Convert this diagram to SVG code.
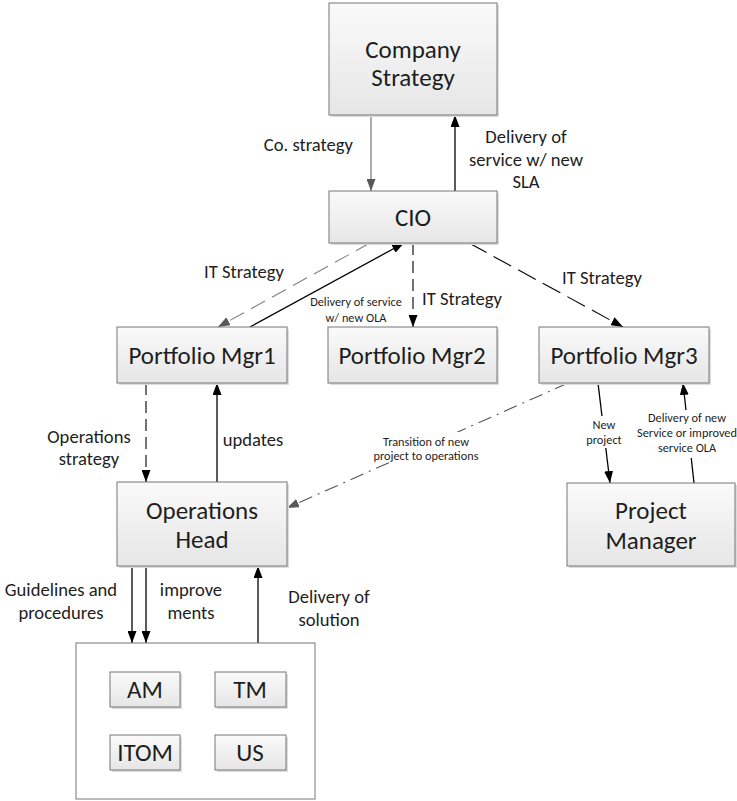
<svg xmlns="http://www.w3.org/2000/svg" width="737" height="801" viewBox="0 0 737 801">
  <defs>
    <linearGradient id="boxFill" x1="0" y1="0" x2="0" y2="1">
      <stop offset="0" stop-color="#fafafa"/>
      <stop offset="1" stop-color="#e6e6e6"/>
    </linearGradient>
    <marker id="arrowBlack" viewBox="0 0 12 9" refX="12" refY="4.5" markerWidth="12" markerHeight="9" markerUnits="userSpaceOnUse" orient="auto">
      <path d="M0,0 L12,4.5 L0,9 Z" fill="#000"/>
    </marker>
    <marker id="arrowGray" viewBox="0 0 12 9" refX="12" refY="4.5" markerWidth="12" markerHeight="9" markerUnits="userSpaceOnUse" orient="auto">
      <path d="M0,0 L12,4.5 L0,9 Z" fill="#595959"/>
    </marker>
    <style>
      .shadow { fill: #dcdcdc; }
      .box { fill: url(#boxFill); stroke: #777; stroke-width: 1; }
      .frame { fill: #fff; stroke: #777; stroke-width: 1; }
      text { font-family: Carlito, Lato, "Open Sans", sans-serif; font-weight: 300; fill: #1e1e1e; text-anchor: middle; }
      .big { font-size: 25px; }
      .lbl { font-size: 18.6px; }
      .small { font-size: 12.3px; font-weight: 400; }
      .solid { fill: none; stroke: #000; stroke-width: 1.3; }
      .grayline { fill: none; stroke: #7f7f7f; stroke-width: 1.3; }
      .dash { fill: none; stroke: #000; stroke-width: 1.1; stroke-dasharray: 12 6; }
      .longdash { fill: none; stroke: #000; stroke-width: 1.1; stroke-dasharray: 20 8; }
      .graydash { fill: none; stroke: #808080; stroke-width: 1.1; stroke-dasharray: 16 8; }
      .dashdot { fill: none; stroke: #555; stroke-width: 1.1; stroke-dasharray: 14 6 2 6; }
      .lblbg { fill: #fff; }
    </style>
  </defs>

  <!-- connectors -->
  <g id="connectors">
    <line class="grayline" x1="371" y1="115" x2="371" y2="191" marker-end="url(#arrowGray)"/>
    <line class="solid" x1="455" y1="191" x2="455" y2="115" marker-end="url(#arrowBlack)"/>
    <line class="graydash" x1="370" y1="243" x2="218" y2="327" marker-end="url(#arrowGray)"/>
    <line class="solid" x1="250" y1="327" x2="404" y2="243" marker-end="url(#arrowBlack)"/>
    <line class="dash" x1="413" y1="243" x2="413" y2="327" marker-end="url(#arrowBlack)"/>
    <line class="longdash" x1="469" y1="243" x2="623" y2="327" marker-end="url(#arrowBlack)"/>
    <line class="dash" x1="146" y1="383" x2="146" y2="482" marker-end="url(#arrowBlack)"/>
    <line class="solid" x1="217" y1="482" x2="217" y2="383" marker-end="url(#arrowBlack)"/>
    <line class="dashdot" x1="568" y1="383" x2="287" y2="508" marker-end="url(#arrowGray)"/>
    <line class="solid" x1="598" y1="383" x2="610" y2="483" marker-end="url(#arrowBlack)"/>
    <line class="solid" x1="694" y1="483" x2="683" y2="383" marker-end="url(#arrowBlack)"/>
    <line class="solid" x1="132" y1="566" x2="132" y2="643" marker-end="url(#arrowBlack)"/>
    <line class="solid" x1="146" y1="566" x2="146" y2="643" marker-end="url(#arrowBlack)"/>
    <line class="solid" x1="258" y1="643" x2="258" y2="566" marker-end="url(#arrowBlack)"/>
  </g>

  <!-- connector labels -->
  <g id="connector-labels">
    <text class="lbl" x="353" y="151" style="text-anchor:end">Co. strategy</text>
    <text class="lbl" x="526" y="143">Delivery of</text>
    <text class="lbl" x="526" y="166">service w/ new</text>
    <text class="lbl" x="526" y="188">SLA</text>
    <text class="lbl" x="244" y="278">IT Strategy</text>
    <text class="small" x="356" y="306">Delivery of service</text>
    <text class="small" x="356" y="322">w/ new OLA</text>
    <text class="lbl" x="462" y="305">IT Strategy</text>
    <text class="lbl" x="602" y="284">IT Strategy</text>
    <text class="lbl" x="89" y="443">Operations</text>
    <text class="lbl" x="89" y="465">strategy</text>
    <text class="lbl" x="253" y="446">updates</text>
    <rect class="lblbg" x="370" y="432" width="112" height="30"/>
    <text class="small" x="426" y="446">Transition of new</text>
    <text class="small" x="426" y="460">project to operations</text>
    <rect class="lblbg" x="585" y="416" width="38" height="32"/>
    <text class="small" x="604" y="429">New</text>
    <text class="small" x="604" y="444">project</text>
    <rect class="lblbg" x="634" y="410" width="102" height="48"/>
    <text class="small" x="687" y="422">Delivery of new</text>
    <text class="small" x="687" y="437">Service or improved</text>
    <text class="small" x="687" y="452">service OLA</text>
    <text class="lbl" x="61" y="596">Guidelines and</text>
    <text class="lbl" x="61" y="619">procedures</text>
    <text class="lbl" x="191" y="596">improve</text>
    <text class="lbl" x="191" y="619">ments</text>
    <text class="lbl" x="329" y="603">Delivery of</text>
    <text class="lbl" x="329" y="626">solution</text>
  </g>

  <!-- nodes -->
  <g id="company-strategy">
    <rect class="shadow" x="331" y="5" width="168" height="112"/>
    <rect class="box" x="329" y="3" width="168" height="112"/>
    <text class="big" x="413" y="58">Company</text>
    <text class="big" x="413" y="86">Strategy</text>
  </g>
  <g id="cio">
    <rect class="shadow" x="331" y="193" width="168" height="52"/>
    <rect class="box" x="329" y="191" width="168" height="52"/>
    <text class="big" x="413" y="226">CIO</text>
  </g>
  <g id="portfolio-mgr1">
    <rect class="shadow" x="119" y="329" width="170" height="56"/>
    <rect class="box" x="117" y="327" width="170" height="56"/>
    <text class="big" x="202" y="364">Portfolio Mgr1</text>
  </g>
  <g id="portfolio-mgr2">
    <rect class="shadow" x="330" y="329" width="169" height="56"/>
    <rect class="box" x="328" y="327" width="169" height="56"/>
    <text class="big" x="412" y="364">Portfolio Mgr2</text>
  </g>
  <g id="portfolio-mgr3">
    <rect class="shadow" x="541" y="329" width="170" height="56"/>
    <rect class="box" x="539" y="327" width="170" height="56"/>
    <text class="big" x="624" y="364">Portfolio Mgr3</text>
  </g>
  <g id="operations-head">
    <rect class="shadow" x="119" y="484" width="170" height="84"/>
    <rect class="box" x="117" y="482" width="170" height="84"/>
    <text class="big" x="202" y="519">Operations</text>
    <text class="big" x="202" y="548">Head</text>
  </g>
  <g id="project-manager">
    <rect class="shadow" x="569" y="485" width="168" height="83"/>
    <rect class="box" x="567" y="483" width="168" height="83"/>
    <text class="big" x="651" y="519">Project</text>
    <text class="big" x="651" y="549">Manager</text>
  </g>
  <g id="operations-teams">
    <rect class="frame" x="76" y="643" width="239" height="156"/>
    <g id="am">
      <rect class="shadow" x="112" y="674" width="70" height="35"/>
      <rect class="box" x="110" y="672" width="70" height="35"/>
      <text class="big" x="145" y="698">AM</text>
    </g>
    <g id="tm">
      <rect class="shadow" x="217" y="674" width="71" height="35"/>
      <rect class="box" x="215" y="672" width="71" height="35"/>
      <text class="big" x="250" y="698">TM</text>
    </g>
    <g id="itom">
      <rect class="shadow" x="112" y="737" width="70" height="35"/>
      <rect class="box" x="110" y="735" width="70" height="35"/>
      <text class="big" x="145" y="761">ITOM</text>
    </g>
    <g id="us">
      <rect class="shadow" x="217" y="737" width="71" height="35"/>
      <rect class="box" x="215" y="735" width="71" height="35"/>
      <text class="big" x="250" y="761">US</text>
    </g>
  </g>
</svg>
